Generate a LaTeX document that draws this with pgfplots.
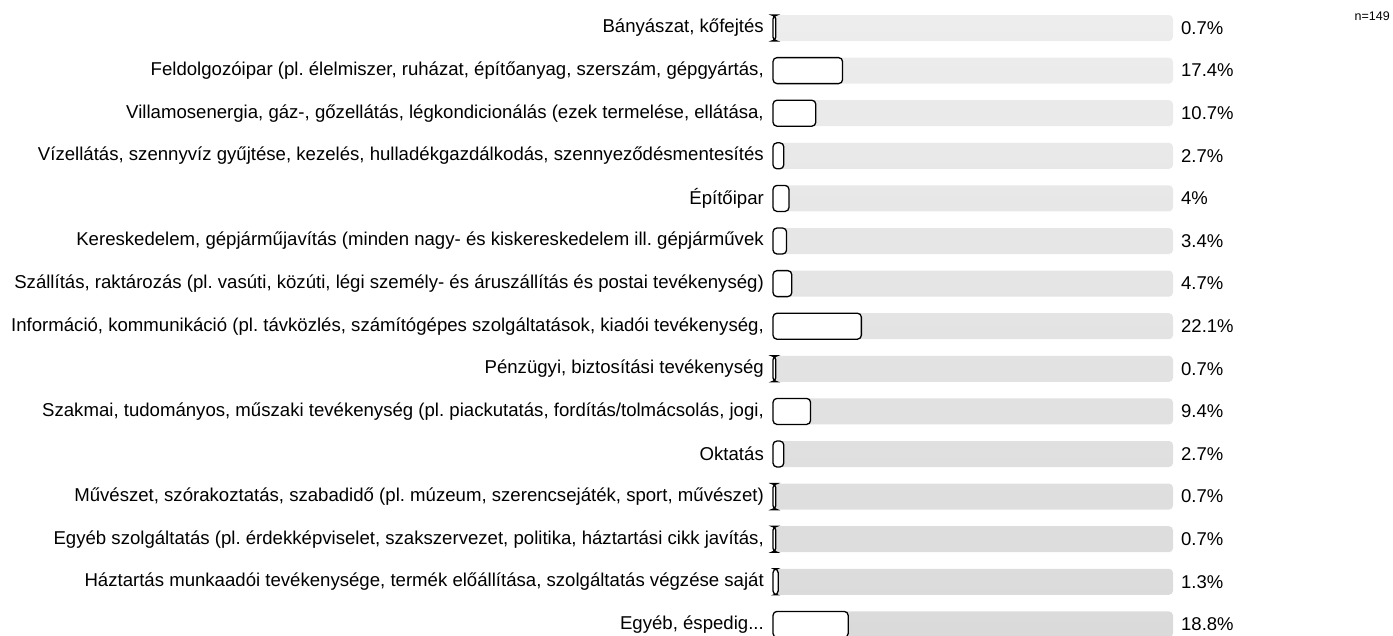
\documentclass[border=0pt]{standalone}
\usepackage{pgfplots}
\usepackage{pgfplotstable}
\pgfplotsset{compat=1.18}
\usepackage{fontspec}
\setmainfont{Liberation Sans}
\frenchspacing
\definecolor{tracktop}{HTML}{EDEDED}
\definecolor{trackbot}{HTML}{DADADA}
\pgfplotstableread{
y v lab
0 0.7 0.7\%
1 17.4 17.4\%
2 10.7 10.7\%
3 2.7 2.7\%
4 4 4\%
5 3.4 3.4\%
6 4.7 4.7\%
7 22.1 22.1\%
8 0.7 0.7\%
9 9.4 9.4\%
10 2.7 2.7\%
11 0.7 0.7\%
12 0.7 0.7\%
13 1.3 1.3\%
14 18.8 18.8\%
}\data
\begin{document}
\begin{tikzpicture}
\begin{axis}[
  at={(773pt,-6.7pt)}, anchor=north west,
  scale only axis, width=400pt, height=639pt,
  xmin=0, xmax=100, ymin=-0.5, ymax=14.5, y dir=reverse,
  axis line style={draw=none}, major tick style={draw=none},
  major tick length=0pt,
  xtick=\empty, ytick={0,1,2,3,4,5,6,7,8,9,10,11,12,13,14},
  yticklabels={
    {Bányászat, kőfejtés},
    {Feldolgozóipar (pl. élelmiszer, ruházat, építőanyag, szerszám, gépgyártás,},
    {Villamosenergia, gáz-, gőzellátás, légkondicionálás (ezek termelése, ellátása,},
    {Vízellátás, szennyvíz gyűjtése, kezelés, hulladékgazdálkodás, szennyeződésmentesítés},
    {Építőipar},
    {Kereskedelem, gépjárműjavítás (minden nagy- és kiskereskedelem ill. gépjárművek},
    {Szállítás, raktározás (pl. vasúti, közúti, légi személy- és áruszállítás és postai tevékenység)},
    {Információ, kommunikáció (pl. távközlés, számítógépes szolgáltatások, kiadói tevékenység,},
    {Pénzügyi, biztosítási tevékenység},
    {Szakmai, tudományos, műszaki tevékenység (pl. piackutatás, fordítás/tolmácsolás, jogi,},
    {Oktatás},
    {Művészet, szórakoztatás, szabadidő (pl. múzeum, szerencsejáték, sport, művészet)},
    {Egyéb szolgáltatás (pl. érdekképviselet, szakszervezet, politika, háztartási cikk javítás,},
    {Háztartás munkaadói tevékenysége, termék előállítása, szolgáltatás végzése saját},
    {Egyéb, éspedig.{}.{}.}
  },
  yticklabel style={anchor=east, inner sep=0pt, xshift=-9pt, font=\fontsize{18.6}{21}\selectfont\frenchspacing},
  clip=false,
]
\addplot[xbar, bar width=26pt, bar shift=0pt, draw=none, top color=tracktop, bottom color=trackbot, rounded corners=4pt]
  table[x expr=100, y=y]{\data};
\addplot[xbar, bar width=26pt, bar shift=0pt, draw=black, fill=white, line width=1.3pt, rounded corners=4pt]
  table[x=v, y=y]{\data};
\addplot[draw=none, mark=none, nodes near coords, point meta=explicit symbolic,
  every node near coord/.style={anchor=west, inner sep=0pt, xshift=8pt, font=\fontsize{18.5}{21}\selectfont}]
  table[x expr=100, y=y, meta=lab]{\data};
\end{axis}
\node[anchor=north east, inner sep=0pt, font=\fontsize{12.5}{14}\selectfont] at (1390pt,-12pt) {n=149};
\pgfresetboundingbox
\useasboundingbox (0,0) rectangle (1393pt,-635pt);
\end{tikzpicture}
\end{document}
